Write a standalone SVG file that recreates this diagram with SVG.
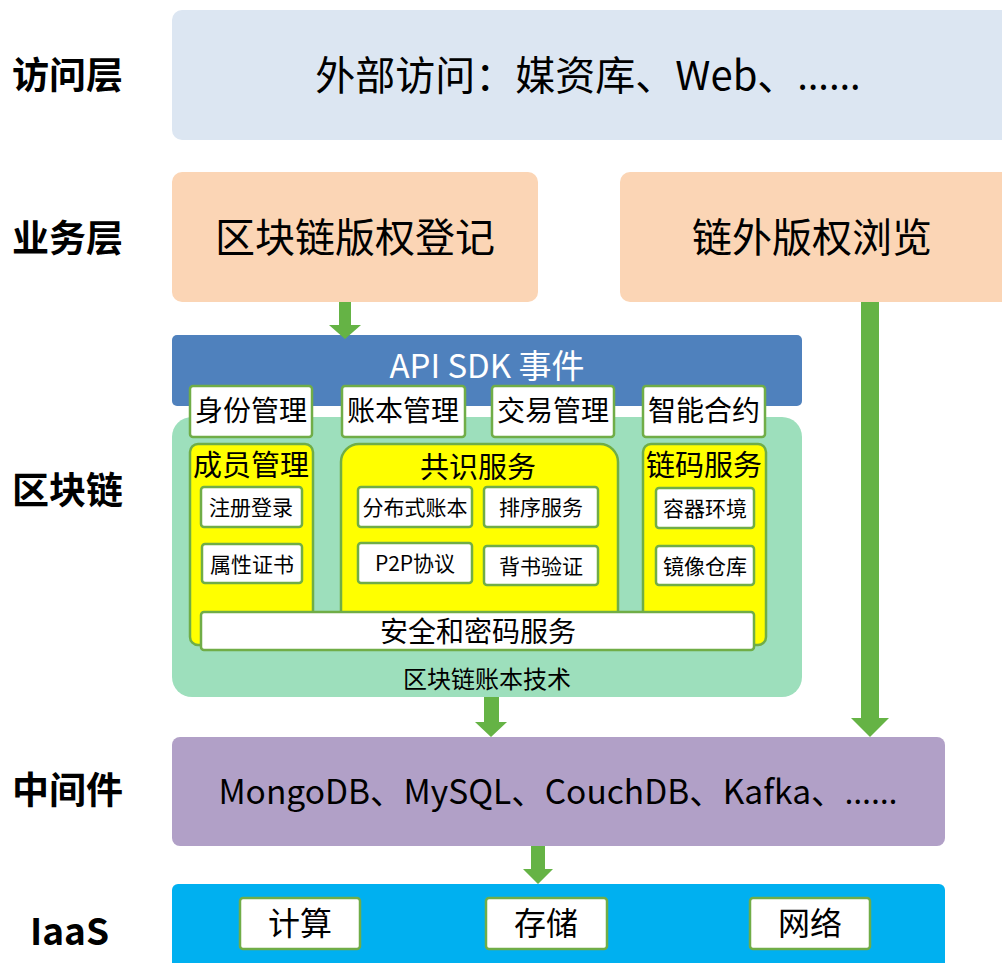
<svg xmlns="http://www.w3.org/2000/svg" width="1002" height="963" viewBox="0 0 1002 963">
<style>
text{font-family:"Noto Sans CJK SC","Noto Sans",sans-serif;fill:#000;text-anchor:middle}
.lbl{font-size:37px;font-weight:bold;text-anchor:start}
.big{font-size:40px}
.wb{fill:#fff;stroke:#70ad47;stroke-width:2.5}
.yb{fill:#ffff00;stroke:#70ad47;stroke-width:2.5}
.t28{font-size:28px}
.t29{font-size:29px}
.t20{font-size:21px}
.arr{fill:#65b345}
.dots{font-family:"Noto Sans","DejaVu Sans",sans-serif}
</style>
<rect width="1002" height="963" fill="#fff"/>
<g id="labels">
<text class="lbl" x="12" y="89">访问层</text>
<text class="lbl" x="12" y="252">业务层</text>
<text class="lbl" x="12" y="504">区块链</text>
<text class="lbl" x="12" y="804">中间件</text>
<text class="lbl" x="30" y="945">IaaS</text>
</g>
<g id="access">
<rect x="172" y="10" width="840" height="130" rx="10" fill="#dce6f2"/>
<text x="588" y="90" style="font-size:40px">外部访问：媒资库、Web、<tspan class="dots">……</tspan></text>
</g>
<g id="register">
<rect x="172" y="172" width="366" height="130" rx="10" fill="#fbd5b5"/>
<text class="big" x="355" y="252">区块链版权登记</text>
</g>
<g id="browse">
<rect x="620" y="172" width="392" height="130" rx="10" fill="#fbd5b5"/>
<text class="big" x="812" y="252">链外版权浏览</text>
</g>
<g id="chain">
<rect x="172" y="335" width="630" height="71" rx="5" fill="#4f81bd"/>
<text x="487" y="378" style="font-size:33px;fill:#fff">API SDK 事件</text>
<rect x="172" y="417" width="630" height="280" rx="20" fill="#9ddfbc"/>
<text x="487" y="688" style="font-size:24px">区块链账本技术</text>
</g>
<g id="top-modules">
<rect class="wb" x="190" y="386" width="122" height="51" rx="3"/>
<text class="t28" x="251" y="421">身份管理</text>
<rect class="wb" x="342" y="386" width="123" height="51" rx="3"/>
<text class="t28" x="403" y="421">账本管理</text>
<rect class="wb" x="492" y="386" width="122" height="51" rx="3"/>
<text class="t28" x="553" y="421">交易管理</text>
<rect class="wb" x="643" y="386" width="122" height="51" rx="3"/>
<text class="t28" x="704" y="421">智能合约</text>
</g>
<g id="member">
<rect class="yb" x="190" y="444" width="123" height="201" rx="8"/>
<text class="t29" x="251" y="476">成员管理</text>
<rect class="wb" x="201" y="487" width="101" height="40" rx="3"/>
<text class="t20" x="251" y="515">注册登录</text>
<rect class="wb" x="202" y="544" width="100" height="39" rx="3"/>
<text class="t20" x="252" y="572">属性证书</text>
</g>
<g id="consensus">
<rect class="yb" x="341" y="444" width="277" height="190" rx="18"/>
<text class="t29" x="478" y="478">共识服务</text>
<rect class="wb" x="358" y="487" width="114" height="40" rx="3"/>
<text class="t20" x="415" y="515">分布式账本</text>
<rect class="wb" x="484" y="487" width="114" height="40" rx="3"/>
<text class="t20" x="541" y="515">排序服务</text>
<rect class="wb" x="358" y="543" width="114" height="40" rx="3"/>
<text class="t20" x="415" y="571">P2P协议</text>
<rect class="wb" x="484" y="546" width="114" height="39" rx="3"/>
<text class="t20" x="541" y="574">背书验证</text>
</g>
<g id="chaincode">
<rect class="yb" x="643" y="444" width="123" height="201" rx="8"/>
<text class="t29" x="704" y="476">链码服务</text>
<rect class="wb" x="656" y="488" width="98" height="40" rx="3"/>
<text class="t20" x="705" y="516">容器环境</text>
<rect class="wb" x="656" y="546" width="98" height="39" rx="3"/>
<text class="t20" x="705" y="574">镜像仓库</text>
</g>
<g id="security">
<rect class="wb" x="201" y="612" width="553" height="38" rx="3"/>
<text x="478" y="642" style="font-size:28px">安全和密码服务</text>
</g>
<g id="middleware">
<rect x="172" y="737" width="773" height="109" rx="8" fill="#b1a0c7"/>
<text x="558" y="804" style="font-size:33.5px">MongoDB、MySQL、CouchDB、Kafka、<tspan class="dots">……</tspan></text>
</g>
<g id="iaas">
<rect x="172" y="884" width="773" height="90" rx="6" fill="#00b0f0"/>
<rect class="wb" x="240" y="898" width="120" height="51" rx="3"/>
<text x="300" y="935" style="font-size:32px">计算</text>
<rect class="wb" x="486" y="898" width="121" height="51" rx="3"/>
<text x="546" y="935" style="font-size:32px">存储</text>
<rect class="wb" x="750" y="898" width="120" height="51" rx="3"/>
<text x="810" y="935" style="font-size:32px">网络</text>
</g>
<g id="connectors">
<polygon class="arr" points="339,302 351,302 351,325 361,325 345,339 329,325 339,325"/>
<polygon class="arr" points="861,302 879,302 879,718 889,718 870,737 851,718 861,718"/>
<polygon class="arr" points="484,697 499,697 499,722 507,722 491,737 475,722 484,722"/>
<polygon class="arr" points="531,846 545,846 545,869 553,869 538,884 523,869 531,869"/>
</g>
</svg>
